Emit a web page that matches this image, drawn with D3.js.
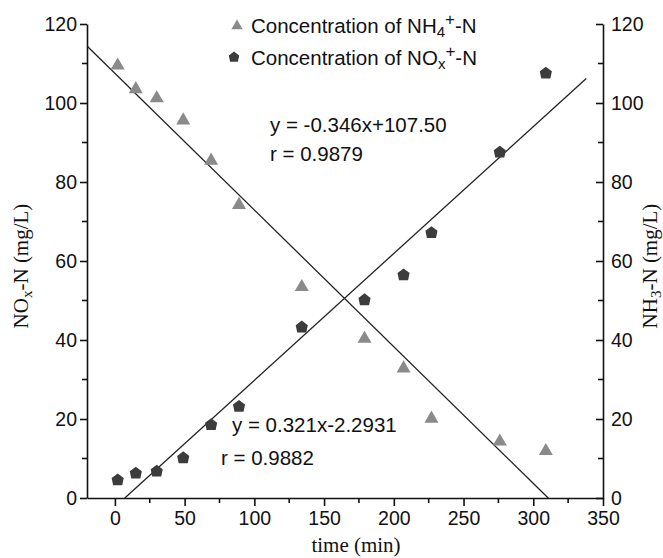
<html>
<head>
<title>NH4 / NOx concentration vs time</title>
<script src="https://d3js.org/d3.v7.min.js" charset="utf-8"></script>
<style>
  body { margin: 0; background: white; font-family: Arial, "Liberation Sans", sans-serif; }
  .tick text { font-family: Arial, "Liberation Sans", sans-serif; font-size: 19.5px; fill: #111; }
  .domain, .tick line { stroke: #111; stroke-width: 1.6; }
  .serif { font-family: "Times New Roman", "Liberation Serif", serif; font-size: 21px; fill: #111; }
  .note { font-family: Arial, "Liberation Sans", sans-serif; font-size: 20.5px; fill: #111; }
</style>
</head>
<body>
<script>
// data
var time = [2, 15, 30, 49, 69, 89, 134, 179, 207, 227, 276, 309];
var nh4 = [109.5, 103.5, 101.2, 95.6, 85.4, 74.2, 53.4, 40.3, 32.8, 20.1, 14.3, 11.9];
var nox = [4.6, 6.3, 6.8, 10.2, 18.6, 23.2, 43.3, 50.2, 56.5, 67.2, 87.6, 107.6];
// linear fits printed on the chart: [slope, intercept], with x range drawn
var fitNH4 = [-0.346, 107.50], fitNH4X = [-20, 310.7];
var fitNOx = [0.321, -2.2931], fitNOxX = [7.1, 338];
var xTicks = [0, 50, 100, 150, 200, 250, 300, 350];
var yTicks = [0, 20, 40, 60, 80, 100, 120];

var width = 663, height = 558;
var mLeft = 87, mRight = 603, mTop = 24, mBottom = 498;

var svg = d3.select("body").append("svg")
  .attr("width", width).attr("height", height);

var x = d3.scaleLinear().domain([-20, 350]).range([mLeft, mRight]);
var y = d3.scaleLinear().domain([0, 120]).range([mBottom, mTop]);

// minor ticks
var xMinor = d3.range(25, 351, 50);
var yMinor = d3.range(10, 120, 20);

// bottom axis
svg.append("g").attr("transform", "translate(0," + mBottom + ")")
  .call(d3.axisBottom(x).tickValues(xTicks).tickSize(8).tickSizeOuter(0).tickPadding(5));
svg.append("g").attr("transform", "translate(0," + mBottom + ")")
  .selectAll("line").data(xMinor).enter().append("line")
  .attr("x1", function(d){ return x(d); }).attr("x2", function(d){ return x(d); })
  .attr("y1", 0).attr("y2", 5).attr("stroke", "#111").attr("stroke-width", 1.6);

// left axis
svg.append("g").attr("transform", "translate(" + mLeft + ",0)")
  .call(d3.axisLeft(y).tickValues(yTicks).tickSize(7).tickSizeOuter(0).tickPadding(3));
svg.append("g").attr("transform", "translate(" + mLeft + ",0)")
  .selectAll("line").data(yMinor).enter().append("line")
  .attr("y1", function(d){ return y(d); }).attr("y2", function(d){ return y(d); })
  .attr("x1", 0).attr("x2", -5).attr("stroke", "#111").attr("stroke-width", 1.6);

// right axis, ticks pointing inward
svg.append("g").attr("transform", "translate(" + mRight + ",0)")
  .call(d3.axisRight(y).tickValues(yTicks).tickSize(-7).tickSizeOuter(0).tickPadding(8));
svg.append("g").attr("transform", "translate(" + mRight + ",0)")
  .selectAll("line").data(yMinor).enter().append("line")
  .attr("y1", function(d){ return y(d); }).attr("y2", function(d){ return y(d); })
  .attr("x1", 0).attr("x2", -5).attr("stroke", "#111").attr("stroke-width", 1.6);

// fit lines
var line = d3.line().x(function(d){ return x(d[0]); }).y(function(d){ return y(d[1]); });
function fitPts(f, r) { return r.map(function(t){ return [t, f[0] * t + f[1]]; }); }
svg.append("path").attr("d", line(fitPts(fitNH4, fitNH4X)))
  .attr("fill", "none").attr("stroke", "#222").attr("stroke-width", 1.3);
svg.append("path").attr("d", line(fitPts(fitNOx, fitNOxX)))
  .attr("fill", "none").attr("stroke", "#222").attr("stroke-width", 1.3);

// pentagon ("house") symbol for NOx
var pentagon = {
  draw: function(ctx, size) {
    var r = Math.sqrt(size) * 0.62;
    ctx.moveTo(0, -r * 1.05);
    ctx.lineTo(r, -r * 0.3);
    ctx.lineTo(r * 0.75, r * 0.9);
    ctx.lineTo(-r * 0.75, r * 0.9);
    ctx.lineTo(-r, -r * 0.3);
    ctx.closePath();
  }
};
var tri = d3.symbol().type(d3.symbolTriangle).size(85);
var pent = d3.symbol().type(pentagon).size(95);

svg.append("g").selectAll("path").data(time).enter().append("path")
  .attr("d", tri)
  .attr("transform", function(d, i){ return "translate(" + x(d) + "," + y(nh4[i]) + ")"; })
  .attr("fill", "#8a8a8a");
svg.append("g").selectAll("path").data(time).enter().append("path")
  .attr("d", pent)
  .attr("transform", function(d, i){ return "translate(" + x(d) + "," + y(nox[i]) + ")"; })
  .attr("fill", "#3c3c3c");

// legend
svg.append("path").attr("d", d3.symbol().type(d3.symbolTriangle).size(55))
  .attr("transform", "translate(237,26)").attr("fill", "#8a8a8a");
svg.append("path").attr("d", d3.symbol().type(pentagon).size(70))
  .attr("transform", "translate(234,57)").attr("fill", "#3c3c3c");
var l1 = svg.append("text").attr("class", "note").attr("x", 251).attr("y", 33);
l1.append("tspan").text("Concentration of NH");
l1.append("tspan").attr("baseline-shift", "-25%").attr("font-size", "15px").text("4");
l1.append("tspan").attr("baseline-shift", "45%").attr("font-size", "17px").text("+");
l1.append("tspan").text("-N");
var l2 = svg.append("text").attr("class", "note").attr("x", 251).attr("y", 65);
l2.append("tspan").text("Concentration of NO");
l2.append("tspan").attr("baseline-shift", "-25%").attr("font-size", "15px").text("x");
l2.append("tspan").attr("baseline-shift", "45%").attr("font-size", "17px").text("+");
l2.append("tspan").text("-N");

// fit annotations
svg.append("text").attr("class", "note").attr("x", 270).attr("y", 132).text("y = -0.346x+107.50");
svg.append("text").attr("class", "note").attr("x", 270).attr("y", 161).text("r = 0.9879");
svg.append("text").attr("class", "note").attr("x", 232).attr("y", 432).text("y = 0.321x-2.2931");
svg.append("text").attr("class", "note").attr("x", 221).attr("y", 465).text("r = 0.9882");

// axis titles
svg.append("text").attr("class", "serif").attr("x", 356).attr("y", 552)
  .attr("text-anchor", "middle").text("time (min)");
var yl = svg.append("text").attr("class", "serif").attr("text-anchor", "middle")
  .attr("transform", "translate(28,266) rotate(-90)");
yl.append("tspan").text("NO");
yl.append("tspan").attr("baseline-shift", "-25%").attr("font-size", "15px").text("x");
yl.append("tspan").text("-N (mg/L)");
var yr = svg.append("text").attr("class", "serif").attr("text-anchor", "middle")
  .attr("transform", "translate(657,266) rotate(-90)");
yr.append("tspan").text("NH");
yr.append("tspan").attr("baseline-shift", "-25%").attr("font-size", "15px").text("3");
yr.append("tspan").text("-N (mg/L)");
</script>
</body>
</html>
